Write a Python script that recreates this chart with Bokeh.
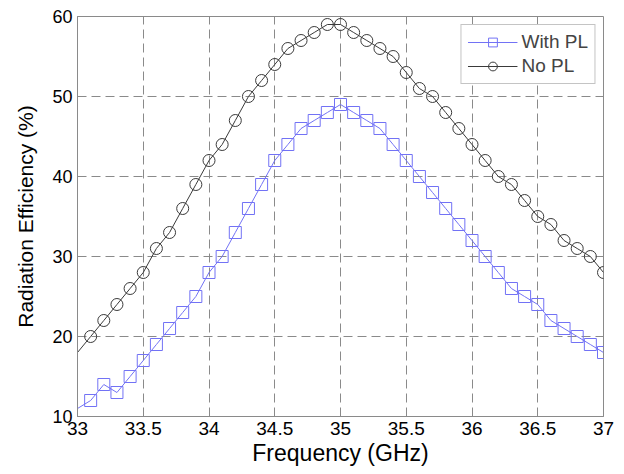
from bokeh.plotting import figure
from bokeh.models import FixedTicker, Legend, LegendItem
from bokeh.embed import file_html
from bokeh.resources import INLINE

freq = [33.1, 33.2, 33.3, 33.4, 33.5, 33.6, 33.7, 33.8, 33.9, 34.0,
        34.1, 34.2, 34.3, 34.4, 34.5, 34.6, 34.7, 34.8, 34.9, 35.0,
        35.1, 35.2, 35.3, 35.4, 35.5, 35.6, 35.7, 35.8, 35.9, 36.0,
        36.1, 36.2, 36.3, 36.4, 36.5, 36.6, 36.7, 36.8, 36.9, 37.0]
with_pl = [12, 14, 13, 15, 17, 19, 21, 23, 25, 28,
           30, 33, 36, 39, 42, 44, 46, 47, 48, 49,
           48, 47, 46, 44, 42, 40, 38, 36, 34, 32,
           30, 28, 26, 25, 24, 22, 21, 20, 19, 18]
no_pl = [20, 22, 24, 26, 28, 31, 33, 36, 39, 42,
         44, 47, 50, 52, 54, 56, 57, 58, 59, 59,
         58, 57, 56, 55, 53, 51, 50, 48, 46, 44,
         42, 40, 39, 37, 35, 34, 32, 31, 30, 28]
# curve starts at the left edge (no marker there)
line_start_x = 33.0
with_pl_start = 11
no_pl_start = 18

x_ticks = [33, 33.5, 34, 34.5, 35, 35.5, 36, 36.5, 37]
x_tick_labels = ["33", "33.5", "34", "34.5", "35", "35.5", "36", "36.5", "37"]
y_ticks = [10, 20, 30, 40, 50, 60]

FONT = "Liberation Sans"
BLUE = "#7272f5"
DARK = "#3a3a3a"
GRAY = "#8a8a8a"

p = figure(frame_width=526, frame_height=400,
           min_border_left=77, min_border_right=21,
           min_border_top=16, min_border_bottom=58,
           x_range=(33, 37), y_range=(10, 60),
           output_backend="svg", toolbar_location=None,
           background_fill_color="white", border_fill_color="white")

p.outline_line_color = GRAY
p.outline_line_width = 1

for ax in (p.xaxis[0], p.yaxis[0]):
    ax.axis_line_color = GRAY
    ax.major_tick_line_color = GRAY
    ax.major_tick_in = 5
    ax.major_tick_out = 0
    ax.minor_tick_line_color = None
    ax.major_label_text_font = FONT
    ax.major_label_text_font_size = "18px"
    ax.major_label_text_color = "black"
    ax.axis_label_text_font = FONT
    ax.axis_label_text_font_style = "normal"
    ax.axis_label_text_color = "black"

p.xaxis.axis_label_text_font_size = "23px"
p.yaxis.axis_label_text_font_size = "21px"
p.xaxis.ticker = FixedTicker(ticks=x_ticks)
p.xaxis.major_label_overrides = {t: l for t, l in zip(x_ticks, x_tick_labels)}
p.xaxis.major_label_text_font_size = "19px"
p.yaxis.ticker = FixedTicker(ticks=y_ticks)
p.xaxis.axis_label = "Frequency (GHz)"
p.yaxis.axis_label = "Radiation Efficiency (%)"
p.xaxis.major_label_standoff = 5
p.yaxis.major_label_standoff = 5
p.xaxis.axis_label_standoff = 2
p.yaxis.axis_label_standoff = 12

for g in (p.xgrid[0], p.ygrid[0]):
    g.grid_line_color = GRAY
    g.grid_line_dash = "9 5"
    g.grid_line_width = 1

lw = p.line([line_start_x] + freq, [with_pl_start] + with_pl, line_color=BLUE, line_width=1)
sw = p.scatter(freq, with_pl, marker="square", size=12, fill_color=None,
               line_color=BLUE, line_width=1)
ln = p.line([line_start_x] + freq, [no_pl_start] + no_pl, line_color=DARK, line_width=1)
cn = p.scatter(freq, no_pl, marker="circle", size=12, fill_color=None,
               line_color=DARK, line_width=1)

legend = Legend(items=[LegendItem(label="With PL", renderers=[lw, sw]),
                       LegendItem(label="No PL", renderers=[ln, cn])],
                location="top_right")
legend.margin = 8
legend.padding = 6
legend.spacing = 2
legend.glyph_width = 50
legend.glyph_height = 22
legend.label_standoff = 4
legend.label_text_font = FONT
legend.label_text_font_size = "19px"
legend.border_line_color = GRAY
legend.background_fill_color = "white"
legend.background_fill_alpha = 1
p.add_layout(legend, "center")

open("out.html", "w").write(file_html(p, INLINE))
